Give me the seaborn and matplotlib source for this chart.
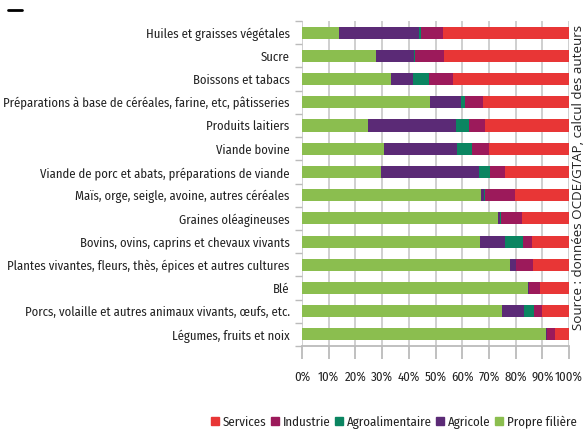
import matplotlib
matplotlib.use("Agg")
import matplotlib.pyplot as plt
from matplotlib.lines import Line2D
import numpy as np
import pandas as pd
import seaborn as sns

# Donnees (parts en %)
categories = [
    "Huiles et graisses végétales",
    "Sucre",
    "Boissons et tabacs",
    "Préparations à base de céréales, farine, etc, pâtisseries",
    "Produits laitiers",
    "Viande bovine",
    "Viande de porc et abats, préparations de viande",
    "Maïs, orge, seigle, avoine, autres céréales",
    "Graines oléagineuses",
    "Bovins, ovins, caprins et chevaux vivants",
    "Plantes vivantes, fleurs, thès, épices et autres cultures",
    "Blé",
    "Porcs, volaille et autres animaux vivants, œufs, etc.",
    "Légumes, fruits et noix",
]
propre_filiere = [13.8, 27.7, 33.3, 47.9, 24.7, 30.7, 29.6, 67.0, 73.3, 66.6, 77.8, 84.5, 74.8, 91.3]
agricole = [30.2, 14.2, 8.2, 11.6, 32.9, 27.5, 36.6, 1.3, 0.8, 9.3, 2.2, 0.4, 8.2, 0.6]
agroalimentaire = [0.5, 0.6, 6.0, 1.7, 4.9, 5.3, 4.1, 0.3, 0.3, 6.8, 0.0, 0.0, 3.8, 0.0]
industrie = [8.2, 10.6, 9.0, 6.5, 6.0, 6.5, 5.6, 11.1, 7.9, 3.3, 6.4, 4.1, 3.0, 2.7]
services = [47.3, 46.9, 43.5, 32.3, 31.5, 30.0, 24.1, 20.3, 17.7, 14.0, 13.6, 11.0, 10.2, 5.4]
x_ticks = [0, 10, 20, 30, 40, 50, 60, 70, 80, 90, 100]

series = {
    "Propre filière": propre_filiere,
    "Agricole": agricole,
    "Agroalimentaire": agroalimentaire,
    "Industrie": industrie,
    "Services": services,
}
colors = {
    "Propre filière": "#8BBE4F",
    "Agricole": "#5B2A76",
    "Agroalimentaire": "#0B8561",
    "Industrie": "#9C1A5B",
    "Services": "#E83636",
}

df = pd.DataFrame(series, index=categories)
shares = df.div(df.sum(axis=1), axis=0) * 100
cum = shares.cumsum(axis=1)

sns.set_theme(style="white")
cond = ["Fira Sans Condensed", "DejaVu Sans"]
plt.rcParams["font.family"] = cond

fig = plt.figure(figsize=(5.85, 4.33), dpi=100)
ax = fig.add_axes([302 / 585, 1 - 346 / 433, 267 / 585, 325 / 433])

# barres empilees : on dessine les cumuls du plus long au plus court
for name in reversed(list(series.keys())):
    sns.barplot(
        x=cum[name].values, y=categories, orient="h", ax=ax,
        color=colors[name], width=0.52, saturation=1, linewidth=0, zorder=3,
    )

ax.set_xlim(0, 100)
ax.set_ylim(len(categories) - 0.5, -0.5)
ax.set_xticks(x_ticks)
ax.set_xticklabels([f"{t}%" for t in x_ticks], fontsize=9.2, color="#222222")
ax.xaxis.grid(True, color="#cccccc", linewidth=1.3, zorder=0)
ax.set_axisbelow(True)

ax.set_yticks(range(len(categories)))
ax.set_yticklabels(categories, fontsize=9.1, color="#222222")
ax.set_yticks(np.arange(-0.5, len(categories)), minor=True)
ax.tick_params(axis="y", which="major", length=0, pad=9)
ax.tick_params(axis="y", which="minor", length=5, color="#bbbbbb", width=1, left=True)
ax.tick_params(axis="x", length=9, color="#bbbbbb", width=1.3, pad=9, bottom=True)
ax.set_xlabel("")
ax.set_ylabel("")

for side in ["top", "right", "left"]:
    ax.spines[side].set_visible(False)
ax.spines["bottom"].set_color("#bbbbbb")
ax.spines["bottom"].set_linewidth(1.3)

# legende
order = ["Services", "Industrie", "Agroalimentaire", "Agricole", "Propre filière"]
handles = [Line2D([], [], marker="s", linestyle="", color=colors[n], markersize=6) for n in order]
fig.legend(
    handles, order, loc="center", bbox_to_anchor=(394 / 585, 1 - 422 / 433), ncol=5,
    frameon=False, handlelength=0.6, handletextpad=0.3, columnspacing=0.35,
    prop={"family": cond, "size": 9.3}, labelcolor="#222222",
)

# source
fig.text(579 / 585, 1 - 177 / 433, "Source : données OCDE/GTAP, calcul des auteurs",
         rotation=90, ha="center", va="center", fontsize=9.6, color="#222222",
         family=["Open Sans", "DejaVu Sans"])

# petit trait en haut a gauche
fig.add_artist(Line2D([8 / 585, 22 / 585], [1 - 10 / 433, 1 - 10 / 433], color="black", linewidth=2))

fig.savefig("out.png", dpi=100)
